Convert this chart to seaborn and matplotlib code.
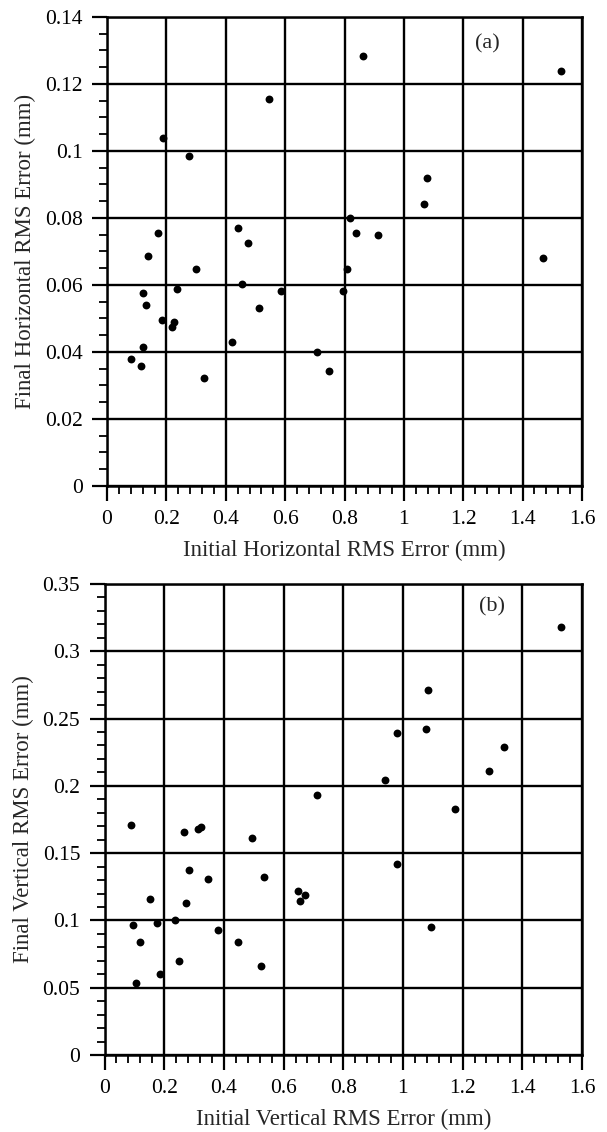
import numpy as np
import pandas as pd
import matplotlib
matplotlib.use("Agg")
import matplotlib.pyplot as plt
import seaborn as sns
from matplotlib.ticker import MultipleLocator

# (a) horizontal RMS error, initial vs final (mm)
horiz_initial = [0.081, 0.113, 0.121, 0.122, 0.130, 0.139, 0.172, 0.187, 0.185,
                 0.220, 0.227, 0.237, 0.276, 0.301, 0.326, 0.422, 0.441, 0.456,
                 0.474, 0.513, 0.546, 0.586, 0.707, 0.747, 0.796, 0.810, 0.820,
                 0.839, 0.863, 0.913, 1.069, 1.077, 1.468, 1.529]
horiz_final = [0.0380, 0.0358, 0.0415, 0.0575, 0.0540, 0.0685, 0.0754, 0.1040, 0.0496,
               0.0474, 0.0488, 0.0588, 0.0985, 0.0648, 0.0322, 0.0430, 0.0769, 0.0603,
               0.0726, 0.0531, 0.1155, 0.0583, 0.0401, 0.0343, 0.0581, 0.0648, 0.0800,
               0.0756, 0.1284, 0.0748, 0.0841, 0.0918, 0.0680, 0.1240]

# (b) vertical RMS error, initial vs final (mm)
vert_initial = [0.089, 0.106, 0.095, 0.120, 0.152, 0.177, 0.185, 0.235, 0.249,
                0.267, 0.274, 0.282, 0.313, 0.324, 0.348, 0.379, 0.446, 0.494,
                0.526, 0.533, 0.648, 0.654, 0.672, 0.711, 0.939, 0.980, 0.980,
                1.077, 1.085, 1.093, 1.175, 1.290, 1.337, 1.530]
vert_final = [0.171, 0.0532, 0.0963, 0.0837, 0.116, 0.0978, 0.0604, 0.100, 0.0696,
              0.166, 0.113, 0.1377, 0.168, 0.1696, 0.1305, 0.0929, 0.0837, 0.161,
              0.0661, 0.1325, 0.122, 0.1144, 0.1186, 0.193, 0.204, 0.239, 0.1417,
              0.2425, 0.271, 0.0953, 0.1825, 0.211, 0.229, 0.318]

panels = [
    dict(x=horiz_initial, y=horiz_final, ymax=0.14, ystep=0.02, yminor=0.005,
         tag="(a)", tag_xy=(1.28, 0.132),
         xlabel="Initial Horizontal RMS Error (mm)",
         ylabel="Final Horizontal RMS Error (mm)",
         rect=[0.1763, 0.5707, 0.7825, 0.4143]),
    dict(x=vert_initial, y=vert_final, ymax=0.35, ystep=0.05, yminor=0.01,
         tag="(b)", tag_xy=(1.30, 0.333),
         xlabel="Initial Vertical RMS Error (mm)",
         ylabel="Final Vertical RMS Error (mm)",
         rect=[0.1722, 0.0680, 0.7866, 0.4161]),
]

sns.set_style("ticks")
plt.rcParams['font.family'] = ['Liberation Serif', 'DejaVu Serif']

fig = plt.figure(figsize=(6.07, 11.32), dpi=100)


def tick_fmt(v, pos):
    # labels like 0, 0.02, 0.1, 1, 1.2 (no trailing zeros)
    return f"{v:.3f}".rstrip('0').rstrip('.')


for p in panels:
    ax = fig.add_axes(p["rect"])
    df = pd.DataFrame({"x": p["x"], "y": p["y"]})
    sns.scatterplot(data=df, x="x", y="y", ax=ax, color="black", s=32,
                    edgecolor="black", linewidth=0, zorder=5)

    ax.set_xlim(0, 1.6)
    ax.set_ylim(0, p["ymax"])
    ax.xaxis.set_major_locator(MultipleLocator(0.2))
    ax.xaxis.set_minor_locator(MultipleLocator(0.04))
    ax.yaxis.set_major_locator(MultipleLocator(p["ystep"]))
    ax.yaxis.set_minor_locator(MultipleLocator(p["yminor"]))
    ax.xaxis.set_major_formatter(plt.FuncFormatter(tick_fmt))
    ax.yaxis.set_major_formatter(plt.FuncFormatter(tick_fmt))

    ax.grid(True, which="major", color="black", linewidth=1.7)
    ax.set_axisbelow(True)
    for sp in ax.spines.values():
        sp.set_linewidth(1.8)
        sp.set_color("black")

    ax.tick_params(which="major", direction="out", length=11, width=1.6,
                   labelsize=15.5, colors="black")
    ax.tick_params(axis="x", which="major", pad=6)
    ax.tick_params(axis="y", which="major", pad=6.5)
    ax.tick_params(which="minor", direction="out", length=6, width=1.3,
                   colors="black")

    ax.set_xlabel(p["xlabel"], fontsize=16.5, labelpad=8)
    ax.set_ylabel(p["ylabel"], fontsize=16.5, labelpad=6)
    ax.text(p["tag_xy"][0], p["tag_xy"][1], p["tag"], fontsize=16,
            ha="center", va="center")

fig.savefig("out.png", dpi=100)
